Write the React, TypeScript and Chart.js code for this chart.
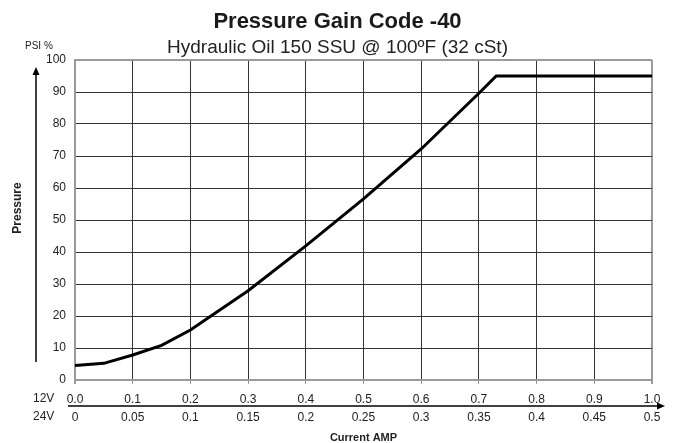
import React, { useEffect, useRef } from "react";
import { Chart, registerables } from "chart.js";

Chart.register(...registerables);

// ---- Data ----
const currentAmp12V = [0, 0.05, 0.1, 0.15, 0.2, 0.3, 0.4, 0.5, 0.6, 0.7, 0.73, 1.0];
const pressurePct = [4.5, 5.2, 7.8, 10.8, 15.6, 27.9, 41.9, 56.6, 72.2, 89.6, 95, 95];

const amp12VTickLabels = ["0.0", "0.1", "0.2", "0.3", "0.4", "0.5", "0.6", "0.7", "0.8", "0.9", "1.0"];
const amp24VTickLabels = ["0", "0.05", "0.1", "0.15", "0.2", "0.25", "0.3", "0.35", "0.4", "0.45", "0.5"];
const pressureTickLabels = ["0", "10", "20", "30", "40", "50", "60", "70", "80", "90", "100"];

const titleText = "Pressure Gain Code -40";
const subtitleText = "Hydraulic Oil 150 SSU @ 100ºF (32 cSt)";
const yUnitText = "PSI %";
const row12VText = "12V";
const row24VText = "24V";
const xTitleText = "Current AMP";
const yTitleText = "Pressure";

const FONT = '"Liberation Sans", Arial, Helvetica, sans-serif';
const GRID_DARK = "#333333";
const GRID_EDGE = "#9a9a9a";

const extrasPlugin = {
  id: "extras",
  afterDraw(chart: any) {
    const { ctx, chartArea } = chart;
    const { left, top, bottom, right } = chartArea;
    ctx.save();
    ctx.strokeStyle = "#000";
    ctx.fillStyle = "#000";
    ctx.lineWidth = 1.5;
    // vertical arrow
    const ax = left - 39;
    ctx.beginPath();
    ctx.moveTo(ax, bottom - 18);
    ctx.lineTo(ax, top + 12);
    ctx.stroke();
    ctx.beginPath();
    ctx.moveTo(ax, top + 7);
    ctx.lineTo(ax - 3.5, top + 15);
    ctx.lineTo(ax + 3.5, top + 15);
    ctx.closePath();
    ctx.fill();
    // horizontal arrow
    const ay = bottom + 26;
    ctx.beginPath();
    ctx.moveTo(left - 7, ay);
    ctx.lineTo(right + 5, ay);
    ctx.stroke();
    ctx.beginPath();
    ctx.moveTo(right + 13, ay);
    ctx.lineTo(right + 5, ay - 3.5);
    ctx.lineTo(right + 5, ay + 3.5);
    ctx.closePath();
    ctx.fill();
    // texts
    ctx.fillStyle = "#222";
    ctx.textBaseline = "middle";
    ctx.textAlign = "left";
    ctx.font = `10px ${FONT}`;
    ctx.fillText(yUnitText, 25, top - 14);
    ctx.font = `12px ${FONT}`;
    ctx.fillText(row12VText, 33, bottom + 19);
    ctx.fillText(row24VText, 33, bottom + 37);
    // y axis title
    ctx.save();
    ctx.translate(18, (top + bottom) / 2 - 12);
    ctx.rotate(-Math.PI / 2);
    ctx.textAlign = "center";
    ctx.font = `bold 12px ${FONT}`;
    ctx.fillText(yTitleText, 0, 0);
    ctx.restore();
    ctx.restore();
  },
};

export default function App() {
  const canvasRef = useRef<HTMLCanvasElement | null>(null);

  useEffect(() => {
    if (!canvasRef.current) return;
    Chart.defaults.font.family = FONT;
    Chart.defaults.color = "#222";
    const chart = new Chart(canvasRef.current, {
      type: "line",
      data: {
        datasets: [
          {
            data: currentAmp12V.map((x, i) => ({ x, y: pressurePct[i] })),
            borderColor: "#000",
            borderWidth: 3,
            pointRadius: 0,
            tension: 0,
            fill: false,
          },
        ],
      },
      options: {
        animation: false,
        responsive: false,
        layout: { padding: { left: 23, right: 24, top: 0, bottom: 0 } },
        plugins: {
          legend: { display: false },
          tooltip: { enabled: false },
          title: {
            display: true,
            text: titleText,
            color: "#1a1a1a",
            font: { size: 22, weight: "bold", family: FONT },
            padding: { top: 9, bottom: 0.6 },
          },
          subtitle: {
            display: true,
            text: subtitleText,
            color: "#222",
            font: { size: 19, family: FONT },
            padding: { top: 0, bottom: 1.2 },
          },
        },
        scales: {
          x: {
            type: "linear",
            position: "bottom",
            min: 0,
            max: 1,
            afterFit: (s: any) => {
              s.height = 28;
            },
            ticks: {
              stepSize: 0.1,
              autoSkip: false,
              maxRotation: 0,
              padding: 8,
              font: { size: 12 },
              color: "#222",
              callback: (_v: any, i: number) => amp12VTickLabels[i],
            },
            grid: {
              color: (c: any) =>
                c.index === 0 || c.index === amp12VTickLabels.length - 1 ? GRID_EDGE : GRID_DARK,
              lineWidth: (c: any) =>
                c.index === 0 || c.index === amp12VTickLabels.length - 1 ? 2 : 1,
              drawTicks: true,
              tickLength: 4,
              tickColor: GRID_EDGE,
            },
            border: { display: true, color: GRID_EDGE, width: 2 },
          },
          x2: {
            type: "linear",
            position: "bottom",
            min: 0,
            max: 0.5,
            afterFit: (s: any) => {
              s.height = 35;
            },
            ticks: {
              stepSize: 0.05,
              autoSkip: false,
              maxRotation: 0,
              padding: 2,
              font: { size: 12 },
              color: "#222",
              callback: (_v: any, i: number) => amp24VTickLabels[i],
            },
            grid: { display: false, drawTicks: false },
            border: { display: false },
            title: {
              display: true,
              text: xTitleText,
              font: { size: 11, weight: "bold" },
              color: "#222",
              padding: { top: 0, bottom: -1.5 },
            },
          },
          y: {
            type: "linear",
            min: 0,
            max: 100,
            afterFit: (s: any) => {
              s.width = 52;
            },
            ticks: {
              stepSize: 10,
              autoSkip: false,
              padding: 9,
              font: { size: 12 },
              color: "#222",
              callback: (_v: any, i: number) => pressureTickLabels[i],
            },
            grid: {
              color: (c: any) =>
                c.index === 0 || c.index === pressureTickLabels.length - 1 ? GRID_EDGE : GRID_DARK,
              lineWidth: (c: any) =>
                c.index === 0 || c.index === pressureTickLabels.length - 1 ? 2 : 1,
              drawTicks: false,
              tickLength: 0,
            },
            border: { display: true, color: GRID_EDGE, width: 2 },
            title: { display: false },
          },
        },
      },
      plugins: [extrasPlugin],
    } as any);
    return () => chart.destroy();
  }, []);

  return (
    <div style={{ position: "absolute", left: 0, top: 0, width: 676, height: 443, background: "#fff" }}>
      <canvas ref={canvasRef} width={676} height={443} />
    </div>
  );
}
